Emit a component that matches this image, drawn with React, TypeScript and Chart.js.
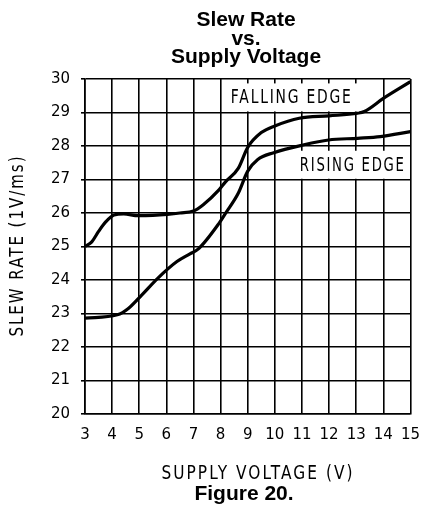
import React, { useEffect, useRef } from "react";
import { Chart, registerables } from "chart.js";

Chart.register(...registerables);

const fallingV = [3.0, 3.25, 3.5, 3.77, 4.07, 4.43, 4.96, 5.5, 6.04, 6.5, 7.0, 7.35, 7.94, 8.18, 8.65, 9.0, 9.5, 10.0, 10.9, 12.0, 13.05, 13.3, 14.0, 15.0];
const fallingRate = [25.0, 25.14, 25.45, 25.74, 25.94, 25.97, 25.92, 25.93, 25.96, 26.0, 26.06, 26.24, 26.69, 26.93, 27.33, 27.96, 28.4, 28.6, 28.83, 28.9, 28.98, 29.03, 29.42, 29.92];

const risingV = [3.0, 4.19, 4.61, 5.09, 5.68, 6.39, 6.87, 7.17, 7.94, 8.18, 8.65, 9.0, 9.37, 9.96, 11.04, 11.98, 13.05, 13.89, 15.0];
const risingRate = [22.86, 22.96, 23.16, 23.55, 24.05, 24.55, 24.78, 24.92, 25.69, 25.99, 26.59, 27.25, 27.6, 27.8, 28.03, 28.18, 28.23, 28.28, 28.43];

const titleLines = ["Slew Rate", "vs.", "Supply Voltage"];
const captionText = "Figure 20.";
const xAxisTitle = "SUPPLY VOLTAGE (V)";
const yAxisTitle = "SLEW RATE (1V/ms)";
const curveLabels = [
  { text: "FALLING EDGE", x: 10.59, y: 29.45 },
  { text: "RISING EDGE", x: 12.84, y: 27.44 },
];

const PLAIN = '"DejaVu Sans ExtraLight", "DejaVu Sans", sans-serif';
const BOLD_FONT = 'bold 21px "Liberation Sans", Arial, sans-serif';

function narrowText(ctx: any, text: string, cx: number, cy: number, size: number, targetW: number, rot = 0) {
  ctx.save();
  ctx.font = `${size}px ${PLAIN}`;
  ctx.letterSpacing = "2.5px";
  const w = ctx.measureText(text).width - 2.5;
  ctx.translate(cx, cy);
  if (rot) ctx.rotate(rot);
  ctx.scale(targetW / w, 1);
  ctx.textAlign = "left";
  ctx.textBaseline = "middle";
  ctx.fillStyle = "#000000";
  ctx.fillText(text, -w / 2, 0);
  ctx.restore();
}

const textPlugin = {
  id: "textPlugin",
  afterDatasetsDraw(chart: any) {
    const ctx = chart.ctx;
    const xs = chart.scales.x;
    const ys = chart.scales.y;
    const widths = [120, 104];
    const boxes = [
      [8, 8],
      [8, 5],
    ];
    curveLabels.forEach((l, i) => {
      const px = xs.getPixelForValue(l.x);
      const py = ys.getPixelForValue(l.y);
      const w = widths[i];
      ctx.save();
      ctx.fillStyle = "#ffffff";
      ctx.fillRect(px - w / 2 - boxes[i][0], py - 14, w + boxes[i][0] + boxes[i][1], 28);
      ctx.restore();
      narrowText(ctx, l.text, px, py + 1, 19.5, w);
    });
  },
  afterDraw(chart: any) {
    const ctx = chart.ctx;
    const a = chart.chartArea;
    ctx.save();
    ctx.font = BOLD_FONT;
    ctx.fillStyle = "#000000";
    ctx.textAlign = "center";
    ctx.textBaseline = "alphabetic";
    const baselines = [26, 45, 63];
    titleLines.forEach((t, i) => ctx.fillText(t, 246, baselines[i]));
    ctx.fillText(captionText, 244, 500);
    ctx.restore();
    narrowText(ctx, xAxisTitle, 257, 474.5, 19, 191);
    narrowText(ctx, yAxisTitle, 18, (a.top + a.bottom) / 2, 19, 180, -Math.PI / 2);
  },
};

export default function App() {
  const ref = useRef<HTMLCanvasElement>(null);
  useEffect(() => {
    if (!ref.current) return;
    const chart = new Chart(ref.current, {
      type: "line",
      data: {
        datasets: [
          {
            label: "Falling edge",
            data: fallingV.map((v, i) => ({ x: v, y: fallingRate[i] })),
            borderColor: "#000000",
            borderWidth: 3.2,
            pointRadius: 0,
            cubicInterpolationMode: "monotone",
            fill: false,
          },
          {
            label: "Rising edge",
            data: risingV.map((v, i) => ({ x: v, y: risingRate[i] })),
            borderColor: "#000000",
            borderWidth: 3.2,
            pointRadius: 0,
            cubicInterpolationMode: "monotone",
            fill: false,
          },
        ],
      },
      options: {
        responsive: false,
        animation: false,
        layout: { padding: { top: 79, left: 0, right: 11, bottom: 23.4 } },
        plugins: {
          legend: { display: false },
          tooltip: { enabled: false },
        },
        scales: {
          x: {
            type: "linear",
            min: 3,
            max: 15,
            afterFit: (s: any) => {
              s.height = 72.6;
            },
            ticks: {
              stepSize: 1,
              padding: 12,
              color: "#000000",
              font: { family: "DejaVu Sans", size: 15 },
              maxRotation: 0,
            },
            grid: { color: "#000000", lineWidth: 1.6, drawTicks: false },
            border: { color: "#000000", width: 1.6 },
          },
          y: {
            type: "linear",
            min: 20,
            max: 30,
            afterFit: (s: any) => {
              s.width = 85;
            },
            ticks: {
              stepSize: 1,
              padding: 11,
              color: "#000000",
              font: { family: "DejaVu Sans", size: 15 },
            },
            grid: { color: "#000000", lineWidth: 1.6, drawTicks: true, tickLength: 4 },
            border: { color: "#000000", width: 1.6 },
          },
        },
      },
      plugins: [textPlugin],
    });
    return () => chart.destroy();
  }, []);
  return (
    <div style={{ position: "fixed", left: 0, top: 0, width: 432, height: 510, background: "#fff" }}>
      <canvas ref={ref} width={432} height={510} />
    </div>
  );
}
